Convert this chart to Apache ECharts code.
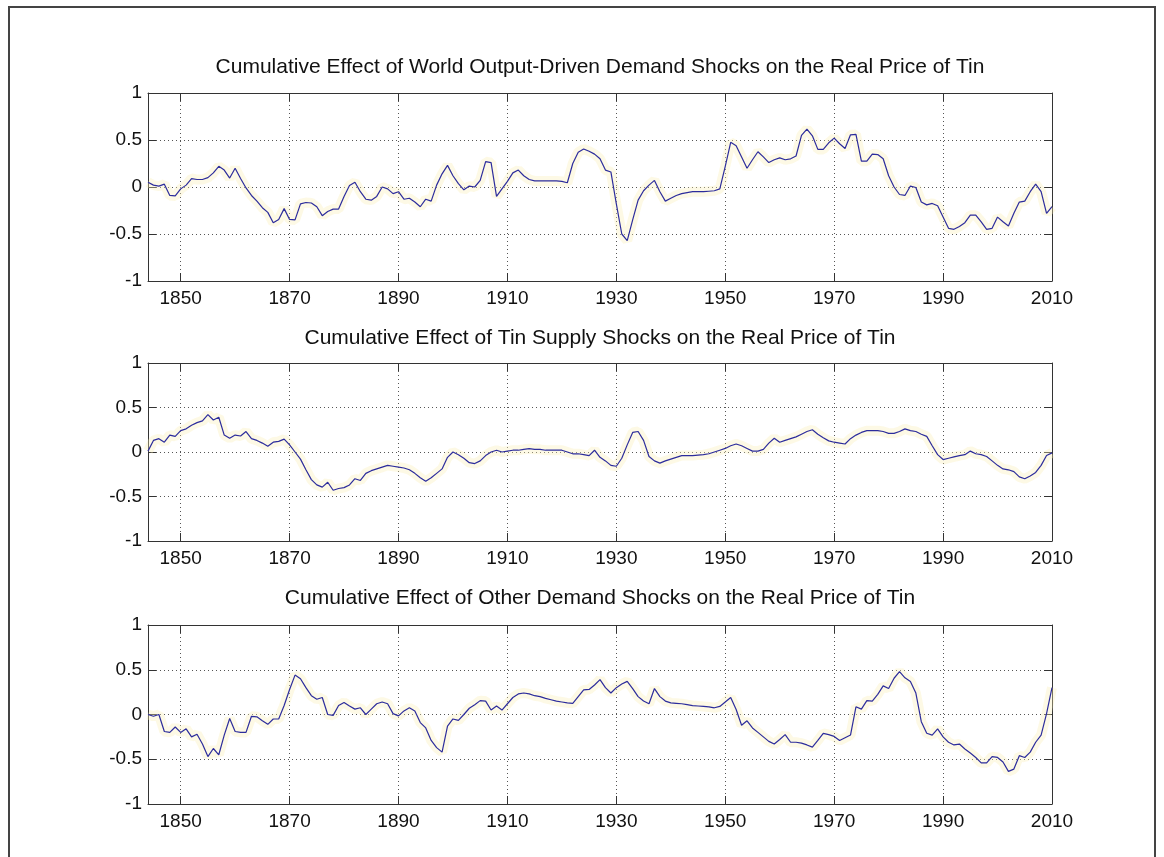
<!DOCTYPE html>
<html><head><meta charset="utf-8">
<script src="https://cdn.jsdelivr.net/npm/echarts@6/dist/echarts.min.js"></script>
<style>html,body{margin:0;padding:0;background:#fff}#c{width:1164px;height:857px}</style>
</head><body><div id="c"></div>
<script>
const startYear = 1844, endYear = 2010;
const titles = [
  'Cumulative Effect of World Output-Driven Demand Shocks on the Real Price of Tin',
  'Cumulative Effect of Tin Supply Shocks on the Real Price of Tin',
  'Cumulative Effect of Other Demand Shocks on the Real Price of Tin'
];
const xTickValues = [1850, 1870, 1890, 1910, 1930, 1950, 1970, 1990, 2010];
const yTickValues = [-1, -0.5, 0, 0.5, 1];

const worldOutput = [
  0.05, 0.02, 0.01, 0.03, -0.09, -0.095,
  -0.02, 0.02, 0.09, 0.08, 0.08, 0.1, 0.15, 0.22, 0.18, 0.095,
  0.2, 0.09, -0.01, -0.09, -0.15, -0.22, -0.27, -0.38, -0.345, -0.23,
  -0.345, -0.35, -0.18, -0.165, -0.17, -0.21, -0.305, -0.26, -0.235, -0.235,
  -0.1, 0.015, 0.05, -0.05, -0.13, -0.14, -0.1, 0.0, -0.02, -0.07,
  -0.05, -0.13, -0.12, -0.16, -0.21, -0.13, -0.15, 0.02, 0.14, 0.23,
  0.12, 0.035, -0.03, 0.01, 0.0, 0.07, 0.27, 0.26, -0.1, -0.02,
  0.06, 0.15, 0.18, 0.12, 0.08, 0.065, 0.065, 0.065, 0.065, 0.065,
  0.06, 0.045, 0.25, 0.37, 0.405, 0.38, 0.35, 0.3, 0.18, 0.16,
  -0.18, -0.5, -0.57, -0.35, -0.14, -0.04, 0.02, 0.07, -0.05, -0.15,
  -0.12, -0.09, -0.07, -0.06, -0.05, -0.05, -0.05, -0.045, -0.04, -0.02,
  0.22, 0.475, 0.44, 0.32, 0.2, 0.29, 0.375, 0.32, 0.26, 0.29,
  0.31, 0.29, 0.3, 0.33, 0.55, 0.615, 0.545, 0.4, 0.4, 0.47,
  0.52, 0.46, 0.41, 0.555, 0.56, 0.275, 0.275, 0.35, 0.345, 0.3,
  0.12, 0.0, -0.08, -0.09, 0.01, -0.005, -0.16, -0.19, -0.175, -0.2,
  -0.32, -0.44, -0.45, -0.42, -0.38, -0.3, -0.3, -0.37, -0.45, -0.44,
  -0.32, -0.37, -0.415, -0.28, -0.16, -0.15, -0.05, 0.03, -0.05, -0.28,
  -0.21
];
const tinSupply = [
  0.01, 0.13, 0.15, 0.11, 0.19, 0.175,
  0.24, 0.26, 0.3, 0.33, 0.35, 0.42, 0.36, 0.39, 0.19, 0.155,
  0.19, 0.18, 0.23, 0.15, 0.13, 0.1, 0.065, 0.11, 0.12, 0.145,
  0.08, 0.0, -0.08, -0.2, -0.31, -0.37, -0.395, -0.34, -0.43, -0.41,
  -0.4, -0.37, -0.3, -0.32, -0.24, -0.21, -0.19, -0.17, -0.15, -0.16,
  -0.17, -0.18, -0.2, -0.24, -0.29, -0.33, -0.29, -0.24, -0.19, -0.06,
  0.0, -0.03, -0.07, -0.12, -0.13, -0.1, -0.04, 0.0, 0.02, 0.0,
  0.01, 0.02, 0.02, 0.03, 0.037, 0.03, 0.03, 0.02, 0.02, 0.02,
  0.02, 0.0, -0.02, -0.02, -0.03, -0.04, 0.02, -0.06, -0.1, -0.15,
  -0.16, -0.07, 0.08, 0.22, 0.23, 0.13, -0.05, -0.1, -0.125, -0.1,
  -0.08, -0.06, -0.04, -0.04, -0.04, -0.035, -0.03, -0.02, 0.0, 0.02,
  0.04, 0.07, 0.09, 0.07, 0.04, 0.01, 0.01, 0.03, 0.1, 0.155,
  0.11, 0.13, 0.15, 0.17, 0.2, 0.23, 0.25, 0.2, 0.16, 0.125,
  0.11, 0.1, 0.09, 0.15, 0.19, 0.22, 0.24, 0.24, 0.24, 0.23,
  0.21, 0.21, 0.23, 0.26, 0.24, 0.23, 0.2, 0.175, 0.07, -0.03,
  -0.085, -0.07, -0.055, -0.04, -0.03, 0.01, -0.02, -0.03, -0.05, -0.1,
  -0.15, -0.19, -0.2, -0.22, -0.28, -0.3, -0.27, -0.23, -0.15, -0.04,
  -0.01
];
const otherDemand = [
  0.0, -0.02, 0.0, -0.19, -0.2, -0.14,
  -0.2, -0.16, -0.25, -0.22, -0.33, -0.47, -0.38, -0.45, -0.23, -0.045,
  -0.19, -0.2, -0.2, -0.02, -0.026, -0.07, -0.11, -0.05, -0.05, 0.1,
  0.28, 0.44, 0.4, 0.3, 0.21, 0.17, 0.19, 0.0, -0.01, 0.1,
  0.135, 0.095, 0.06, 0.075, 0.0, 0.06, 0.12, 0.14, 0.12, 0.01,
  -0.015, 0.04, 0.075, 0.04, -0.09, -0.15, -0.29, -0.37, -0.42, -0.13,
  -0.05, -0.065, 0.0, 0.07, 0.11, 0.155, 0.15, 0.05, 0.095, 0.05,
  0.12, 0.19, 0.23, 0.24, 0.23, 0.21, 0.2, 0.18, 0.165, 0.15,
  0.14, 0.13, 0.125, 0.2, 0.275, 0.28, 0.33, 0.39, 0.3, 0.24,
  0.3, 0.34, 0.37, 0.29, 0.2, 0.15, 0.12, 0.29, 0.2, 0.15,
  0.13, 0.125, 0.12, 0.11, 0.1, 0.095, 0.09, 0.085, 0.075, 0.09,
  0.14, 0.19, 0.056, -0.12, -0.07, -0.15, -0.2, -0.25, -0.3, -0.33,
  -0.28, -0.225, -0.31, -0.31, -0.32, -0.34, -0.365, -0.29, -0.21, -0.225,
  -0.245, -0.29, -0.26, -0.23, 0.086, 0.06, 0.155, 0.15, 0.225, 0.32,
  0.29, 0.405, 0.48, 0.41, 0.37, 0.24, -0.08, -0.21, -0.23, -0.16,
  -0.25, -0.31, -0.34, -0.33, -0.385, -0.43, -0.48, -0.54, -0.54, -0.47,
  -0.48, -0.53, -0.635, -0.61, -0.46, -0.48, -0.42, -0.31, -0.23, 0.01,
  0.3
];

const years = [];
for (let y = startYear; y <= endYear; y++) years.push(y);
const seriesValues = [worldOutput, tinSupply, otherDemand];

const gridBoxes = [
  {left: 148, top: 93, width: 904, height: 188},
  {left: 148, top: 363, width: 904, height: 178},
  {left: 148, top: 625, width: 904, height: 179}
];
const titleTops = [57, 328, 588];
const axisColor = '#333';
const fontFamily = 'Liberation Sans, Arial, sans-serif';

const option = {
  animation: false,
  backgroundColor: '#fff',
  title: titles.map((t, i) => ({
    text: t, left: 600, top: titleTops[i], textAlign: 'center', padding: 0,
    textStyle: {fontSize: 21, fontWeight: 'normal', color: '#111', fontFamily}
  })),
  grid: gridBoxes.map(g => Object.assign({containLabel: false}, g)),
  xAxis: [], yAxis: [], series: [],
  graphic: [{
    type: 'rect', silent: true,
    shape: {x: 9, y: 7, width: 1146, height: 870},
    style: {fill: null, stroke: '#444', lineWidth: 2}
  }]
};

gridBoxes.forEach((g, i) => {
  option.xAxis.push({
    type: 'value', gridIndex: i, min: startYear, max: endYear, position: 'bottom',
    axisLine: {show: true, onZero: false, lineStyle: {color: axisColor, width: 1}},
    axisTick: {show: true, inside: true, length: 8, customValues: xTickValues, lineStyle: {color: axisColor}},
    axisLabel: {show: true, customValues: xTickValues, margin: 8, fontSize: 19, color: '#111', fontFamily,
      formatter: v => String(v)},
    splitLine: {show: true, lineStyle: {color: '#555', type: [1, 3], width: 1}}
  });
  option.xAxis.push({
    type: 'value', gridIndex: i, min: startYear, max: endYear, position: 'top',
    axisLine: {show: true, onZero: false, lineStyle: {color: axisColor, width: 1}},
    axisTick: {show: true, inside: true, length: 8, customValues: xTickValues, lineStyle: {color: axisColor}},
    axisLabel: {show: false},
    splitLine: {show: false}
  });
  option.yAxis.push({
    type: 'value', gridIndex: i, min: -1, max: 1, interval: 0.5, position: 'left',
    axisLine: {show: true, onZero: false, lineStyle: {color: axisColor, width: 1}},
    axisTick: {show: true, inside: true, length: 8, lineStyle: {color: axisColor}},
    axisLabel: {show: true, margin: 6, fontSize: 19, color: '#111', fontFamily},
    splitLine: {show: true, lineStyle: {color: '#555', type: [1, 3], width: 1}}
  });
  option.yAxis.push({
    type: 'value', gridIndex: i, min: -1, max: 1, interval: 0.5, position: 'right',
    axisLine: {show: true, onZero: false, lineStyle: {color: axisColor, width: 1}},
    axisTick: {show: true, inside: true, length: 8, lineStyle: {color: axisColor}},
    axisLabel: {show: false},
    splitLine: {show: false}
  });
  const pts = years.map((y, k) => [y, seriesValues[i][k]]);
  option.series.push({
    type: 'line', xAxisIndex: 2 * i, yAxisIndex: 2 * i, data: pts,
    showSymbol: false, silent: true, z: 1,
    lineStyle: {color: 'rgba(250,238,180,0.35)', width: 10}
  });
  option.series.push({
    type: 'line', xAxisIndex: 2 * i, yAxisIndex: 2 * i, data: pts,
    showSymbol: false, silent: true, z: 3,
    lineStyle: {color: '#2c2c9c', width: 1.2}
  });
});

const chart = echarts.init(document.getElementById('c'), null, {renderer: 'canvas'});
chart.setOption(option);
</script>
</body></html>
